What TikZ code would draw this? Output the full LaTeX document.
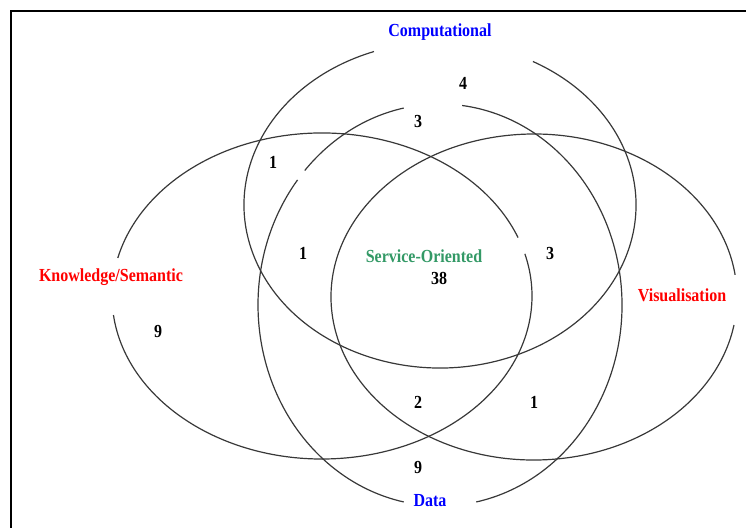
\documentclass[tikz,border=0pt]{standalone}
\usepackage{fontspec}
\setmainfont{Liberation Serif}
\definecolor{setblue}{RGB}{0,0,255}
\definecolor{setred}{RGB}{255,0,0}
\definecolor{setgreen}{RGB}{51,153,102}
\newcommand\tallbold[1]{\scalebox{1}[1.15]{#1}}
\tikzset{
  setline/.style={draw=black!78, line width=1.2pt},
  frameline/.style={draw=black, line width=2.6pt},
  lbl/.style={font=\fontsize{16}{19}\selectfont\bfseries, inner sep=0pt},
  count/.style={lbl, text=black},
}
% elliptical arc: centre, start angle, end angle, x radius, y radius
\newcommand\vennarc[5]{%
  \draw[setline] (#1) ++(#2:#4pt and #5pt)
    arc[start angle=#2, end angle=#3, x radius=#4pt, y radius=#5pt];}
\begin{document}
\begin{tikzpicture}[x=1pt,y=1pt]
  \useasboundingbox (0,0) rectangle (746,-527);
  % page frame (open to the right and bottom)
  \draw[frameline] (11,-540) -- (11,-11) -- (760,-11);

  % centres of the four sets
  \coordinate (cComp) at (440,-205);
  \coordinate (cKnow) at (322,-296);
  \coordinate (cVis)  at (534,-297);
  \coordinate (cData) at (440,-305);

  % Computational
  \vennarc{cComp}{109.7}{421.7}{196}{163}
  % Knowledge/Semantic
  \vennarc{cKnow}{21}{166.5}{210}{163}
  \vennarc{cKnow}{186.7}{375}{210}{163}
  % Visualisation
  \vennarc{cVis}{7.8}{350.1}{203}{163}
  % Data
  \vennarc{cData}{101.5}{138}{182}{201}
  \vennarc{cData}{141.5}{258.5}{182}{201}
  \vennarc{cData}{281.5}{443}{182}{201}

  % set names
  \node[lbl, text=setblue]  (nComp) at (440,-32)  {\tallbold{Computational}};
  \node[lbl, text=setred]   (nKnow) at (111,-277) {\tallbold{Knowledge/Semantic}};
  \node[lbl, text=setred]   (nVis)  at (682,-295) {\tallbold{Visualisation}};
  \node[lbl, text=setblue]  (nData) at (430,-501) {\tallbold{Data}};
  \node[lbl, text=setgreen] (nServ) at (424,-256) {\tallbold{Service-Oriented}};

  % counts per region
  \node[count] (kAll)   at (439,-278) {\tallbold{38}};
  \node[count] (kC)     at (463,-83)  {\tallbold{4}};
  \node[count] (kCD)    at (418,-121) {\tallbold{3}};
  \node[count] (kCK)    at (273,-162) {\tallbold{1}};
  \node[count] (kCKD)   at (303,-253) {\tallbold{1}};
  \node[count] (kCVD)   at (550,-253) {\tallbold{3}};
  \node[count] (kK)     at (158,-331) {\tallbold{9}};
  \node[count] (kKVD)   at (418,-402) {\tallbold{2}};
  \node[count] (kVD)    at (534,-402) {\tallbold{1}};
  \node[count] (kD)     at (418,-467) {\tallbold{9}};
\end{tikzpicture}
\end{document}
